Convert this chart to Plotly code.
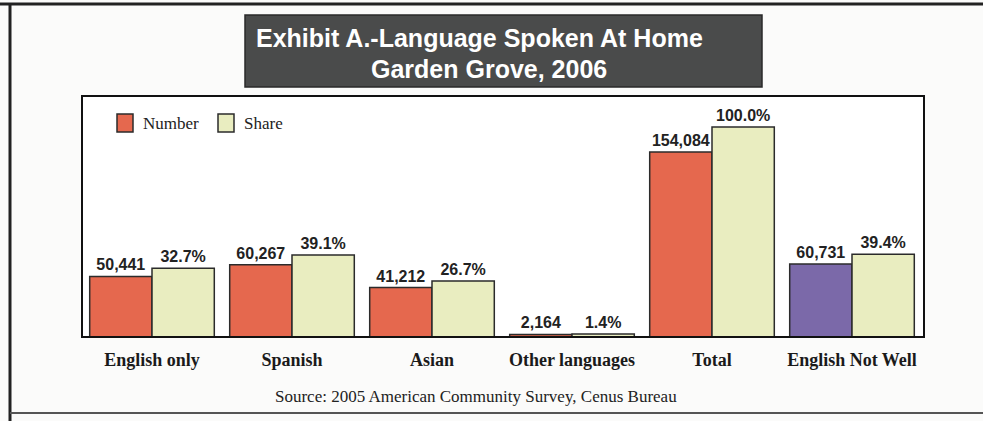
import plotly.graph_objects as go

# Language spoken at home, Garden Grove
categories = ["English only", "Spanish", "Asian", "Other languages", "Total", "English Not Well"]
number_values = [50441, 60267, 41212, 2164, 154084, 60731]
share_values = [32.7, 39.1, 26.7, 1.4, 100.0, 39.4]
number_labels = [f"<b>{v:,}</b>" for v in number_values]
share_labels = [f"<b>{v:.1f}%</b>" for v in share_values]

NUM_COLOR = "#E5684E"
SHARE_COLOR = "#E9EDC0"
NOTWELL_COLOR = "#7B69A9"
EDGE = "#2b2b2b"

number_colors = [NUM_COLOR] * 5 + [NOTWELL_COLOR]

W, H = 983, 421
L, R, T, B = 82, 924, 96, 337  # plot box in pixels


def px(x):
    return (x - L) / (R - L)


def py(y):
    return (B - y) / (B - T)


bar_w = 0.445
label_font = dict(family="Liberation Sans, Arial", size=16, color="#222222")

fig = go.Figure()
fig.add_trace(go.Bar(
    x=list(range(len(categories))), y=number_values, name="Number",
    width=bar_w, offset=-bar_w,
    marker=dict(color=number_colors, line=dict(color=EDGE, width=1.5)),
    text=number_labels, textposition="outside", textfont=label_font,
    cliponaxis=False, yaxis="y",
))
fig.add_trace(go.Bar(
    x=list(range(len(categories))), y=share_values, name="Share",
    width=bar_w, offset=0,
    marker=dict(color=SHARE_COLOR, line=dict(color=EDGE, width=1.5)),
    text=share_labels, textposition="outside", textfont=label_font,
    cliponaxis=False, yaxis="y2",
))

shapes = []
annotations = []

# outer frame of the exhibit
frame = dict(type="line", xref="paper", yref="paper", line=dict(color="#222222", width=3))
shapes.append({**frame, "x0": px(0), "x1": px(W), "y0": py(4), "y1": py(4)})
shapes.append({**frame, "x0": px(10), "x1": px(10), "y0": py(4), "y1": py(W)})
shapes.append({**frame, "x0": px(10), "x1": px(W), "y0": py(413), "y1": py(413),
               "line": dict(color="#555555", width=2)})

# title box
shapes.append(dict(type="rect", xref="paper", yref="paper",
                   x0=px(245), x1=px(762), y0=py(87), y1=py(15),
                   fillcolor="#4A4B4B", line=dict(color="#2a2a2a", width=1.5)))
title_font = dict(family="Liberation Sans, Arial", size=25, color="white")
annotations.append(dict(text="<b>Exhibit A.-Language Spoken At Home</b>", xref="paper", yref="paper",
                        x=px(479), y=py(38), showarrow=False, font=title_font,
                        xanchor="center", yanchor="middle"))
annotations.append(dict(text="<b>Garden Grove, 2006</b>", xref="paper", yref="paper",
                        x=px(489), y=py(69), showarrow=False, font=title_font,
                        xanchor="center", yanchor="middle"))

# plot box
shapes.append(dict(type="rect", xref="paper", yref="paper", x0=0, x1=1, y0=0, y1=1,
                   line=dict(color="#111111", width=2), layer="above"))

# legend
leg_font = dict(family="Liberation Serif, Times New Roman", size=17, color="#222222")
for x0, color, name in [(117, NUM_COLOR, "Number"), (218, SHARE_COLOR, "Share")]:
    shapes.append(dict(type="rect", xref="paper", yref="paper",
                       x0=px(x0), x1=px(x0 + 16), y0=py(132), y1=py(114),
                       fillcolor=color, line=dict(color=EDGE, width=1.5)))
    annotations.append(dict(text=name, xref="paper", yref="paper", x=px(x0 + 24), y=py(123),
                            showarrow=False, font=leg_font, xanchor="left", yanchor="middle"))

# source note
annotations.append(dict(text="Source: 2005 American Community Survey, Cenus Bureau",
                        xref="paper", yref="paper", x=px(476), y=py(396), showarrow=False,
                        font=dict(family="Liberation Serif, Times New Roman", size=17, color="#222222"),
                        xanchor="center", yanchor="middle"))

share_top = 100.0 * (B - T) / 210.0
number_top = 154084 * (B - T) / 185.0

fig.update_layout(
    width=W, height=H,
    margin=dict(l=L, r=W - R, t=T, b=H - B),
    paper_bgcolor="#FBFBFA", plot_bgcolor="white",
    showlegend=False,
    barmode="overlay",
    shapes=shapes, annotations=annotations,
    xaxis=dict(range=[-0.5, (R - 152) / 140.0], tickvals=list(range(len(categories))),
               ticktext=[f"<b>{c}</b>" for c in categories],
               tickfont=dict(family="Liberation Serif, Times New Roman", size=18, color="#1a1a1a"),
               ticklabelstandoff=10,
               showgrid=False, zeroline=False, ticks="", ticklen=0, showline=False),
    yaxis=dict(range=[0, number_top], visible=False, showgrid=False, zeroline=False),
    yaxis2=dict(range=[0, share_top], overlaying="y", visible=False, showgrid=False, zeroline=False),
)

fig.write_html("out.html")
